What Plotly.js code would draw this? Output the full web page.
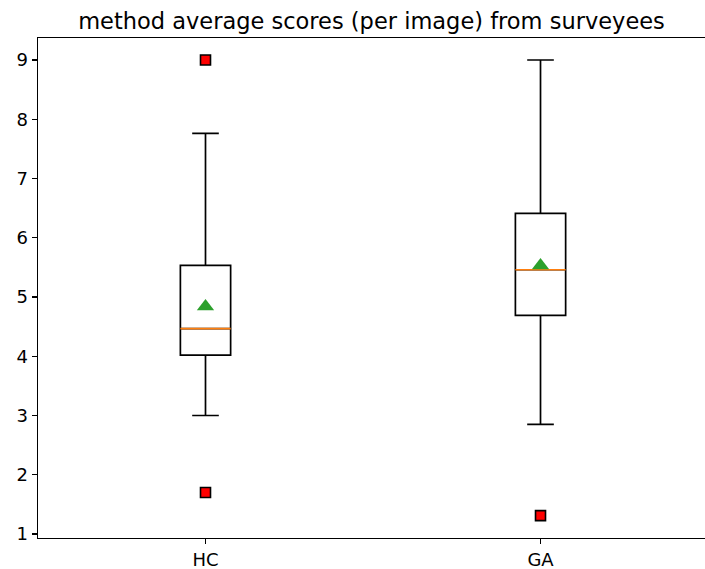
<!DOCTYPE html>
<html>
<head>
<meta charset="utf-8">
<script src="https://cdn.plot.ly/plotly-3.0.1.min.js"></script>
<style>html,body{margin:0;padding:0;background:#fff;}#chart{width:705px;height:569px;}</style>
</head>
<body>
<div id="chart"></div>
<script>
// Data
const categories = ["HC", "GA"];
const positions = [1, 2];
const lowerWhisker = [3.00, 2.85];
const q1 = [4.02, 4.69];
const median = [4.465, 5.46];
const q3 = [5.535, 6.41];
const upperWhisker = [7.76, 9.00];
const means = [4.84, 5.53];
const outlierPos = [1, 1, 2];
const outlierVals = [9.00, 1.70, 1.31];
const yTicks = [1, 2, 3, 4, 5, 6, 7, 8, 9];

const boxWidth = 0.15;
const font = "DejaVu Sans, sans-serif";

// median segments
const medX = [], medY = [];
positions.forEach((p, i) => {
  medX.push(p - boxWidth / 2, p + boxWidth / 2, null);
  medY.push(median[i], median[i], null);
});

const traces = [
  {
    type: "box",
    x: positions,
    q1: q1,
    median: median,
    q3: q3,
    lowerfence: lowerWhisker,
    upperfence: upperWhisker,
    width: boxWidth,
    whiskerwidth: 0.53,
    fillcolor: "rgba(0,0,0,0)",
    line: { color: "black", width: 1.7 },
    boxpoints: false,
    hoverinfo: "skip",
    showlegend: false
  },
  {
    type: "scatter", mode: "lines",
    x: medX, y: medY,
    line: { color: "#ff7f0e", width: 1.7 },
    hoverinfo: "skip", showlegend: false
  },
  {
    type: "scatter", mode: "markers",
    x: positions, y: means,
    marker: { symbol: "triangle-up", size: 15, color: "#2ca02c", line: { width: 0 } },
    showlegend: false
  },
  {
    type: "scatter", mode: "markers",
    x: outlierPos, y: outlierVals,
    marker: { symbol: "square", size: 10, color: "#ff0000", line: { color: "black", width: 1.6 } },
    showlegend: false
  }
];

const layout = {
  width: 705, height: 569,
  margin: { l: 38, r: 0, t: 38, b: 31, pad: 0 },
  paper_bgcolor: "white", plot_bgcolor: "white",
  font: { family: font, color: "black", size: 18 },
  title: {
    text: "method average scores (per image) from surveyees",
    font: { family: font, size: 22.5, color: "black" },
    x: 0.5, xref: "paper", xanchor: "center",
    y: 1, yref: "paper", yanchor: "bottom", pad: { b: 9 }
  },
  xaxis: {
    type: "linear",
    range: [0.5, 2.491],
    tickvals: positions, ticktext: categories,
    ticks: "outside", ticklen: 5, tickwidth: 1.3, tickcolor: "black",
    showline: true, mirror: true, linecolor: "black", linewidth: 1.4,
    showgrid: false, zeroline: false,
    tickfont: { family: font, size: 18, color: "black" }
  },
  yaxis: {
    range: [0.9325, 9.371],
    tickvals: yTicks,
    ticks: "outside", ticklen: 5, tickwidth: 1.3, tickcolor: "black",
    showline: true, mirror: false, linecolor: "black", linewidth: 1.4,
    showgrid: false, zeroline: false,
    tickfont: { family: font, size: 18, color: "black" }
  }
};

Plotly.newPlot("chart", traces, layout, { displayModeBar: false, staticPlot: true });
</script>
</body>
</html>
